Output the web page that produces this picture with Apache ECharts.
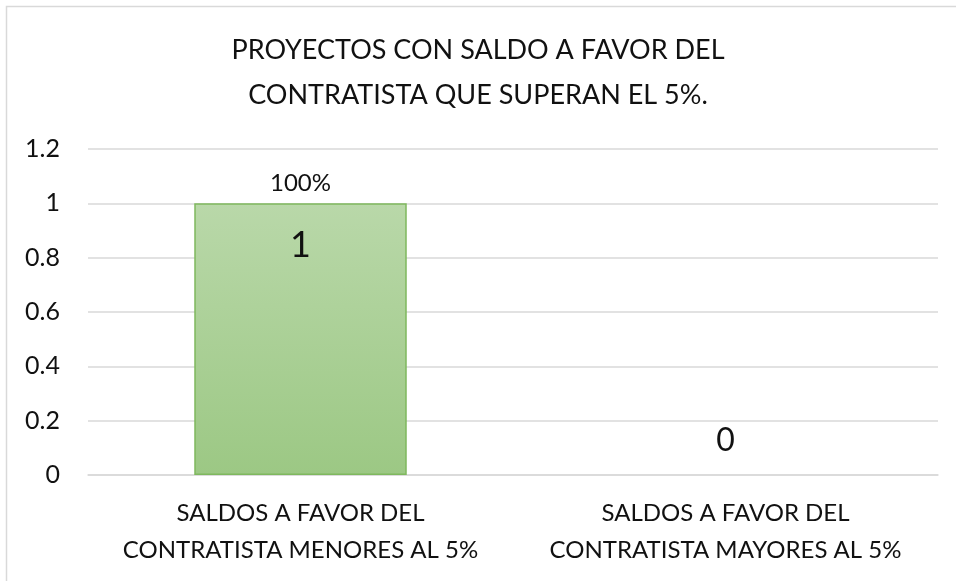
<!DOCTYPE html>
<html>
<head>
<meta charset="utf-8">
<script src="https://cdn.jsdelivr.net/npm/echarts@6/dist/echarts.min.js"></script>
<style>
  html, body { margin: 0; padding: 0; background: #fff; }
  #chart { width: 956px; height: 581px; }
</style>
</head>
<body>
<div id="chart"></div>
<script>
const categories = [
  'SALDOS A FAVOR DEL\nCONTRATISTA MENORES AL 5%',
  'SALDOS A FAVOR DEL\nCONTRATISTA MAYORES AL 5%'
]
const values = [1, 0]
const percentLabels = ['100%', '']
const yTicks = { min: 0, max: 1.2, interval: 0.2 }

const font = 'Lato, "Open Sans", sans-serif'
const chart = echarts.init(document.getElementById('chart'))

chart.setOption({
  backgroundColor: '#fff',
  textStyle: { fontFamily: font },
  // marco gris del área del gráfico
  graphic: [{
    type: 'rect',
    shape: { x: 6.5, y: 6.5, width: 1000, height: 1000 },
    style: { fill: 'none', stroke: '#d9d9d9', lineWidth: 1.5 },
    silent: true
  }],
  title: {
    text: 'PROYECTOS CON SALDO A FAVOR DEL\nCONTRATISTA QUE SUPERAN EL 5%.',
    left: 'center',
    top: 23,
    textStyle: {
      fontFamily: font,
      fontWeight: 'normal',
      fontSize: 27,
      lineHeight: 45,
      color: '#111'
    }
  },
  grid: { left: 88, right: 18, top: 149, bottom: 106 },
  xAxis: {
    type: 'category',
    data: categories,
    axisLine: { show: true, lineStyle: { color: '#d9d9d9', width: 1.5 } },
    axisTick: { show: false },
    axisLabel: {
      color: '#111',
      fontSize: 24,
      lineHeight: 37,
      margin: 20,
      interval: 0
    }
  },
  yAxis: {
    type: 'value',
    min: yTicks.min,
    max: yTicks.max,
    interval: yTicks.interval,
    axisLine: { show: false },
    axisTick: { show: false },
    splitLine: { lineStyle: { color: '#d9d9d9', width: 1.5 } },
    axisLabel: { color: '#111', fontSize: 25, margin: 28 }
  },
  series: [
    {
      type: 'bar',
      barWidth: '50%',
      data: values.map(v => ({
        value: v,
        itemStyle: v === 0 ? { borderWidth: 0 } : {},
        label: v === 0
          ? { position: 'top', distance: 18, fontSize: 32 }
          : { position: 'insideTop', distance: 24, fontSize: 36 }
      })),
      itemStyle: {
        color: new echarts.graphic.LinearGradient(0, 0, 0, 1, [
          { offset: 0, color: '#b9d8a9' },
          { offset: 1, color: '#9cc884' }
        ]),
        borderColor: '#7fb85e',
        borderWidth: 1.5
      },
      label: { show: true, color: '#111', fontFamily: font }
    },
    {
      // etiqueta de porcentaje sobre la barra
      type: 'bar',
      barWidth: '50%',
      barGap: '-100%',
      data: values,
      itemStyle: { color: 'rgba(0,0,0,0)' },
      silent: true,
      label: {
        show: true,
        position: 'top',
        distance: 8,
        fontSize: 24,
        color: '#111',
        fontFamily: font,
        formatter: p => percentLabels[p.dataIndex]
      }
    }
  ]
})
</script>
</body>
</html>
